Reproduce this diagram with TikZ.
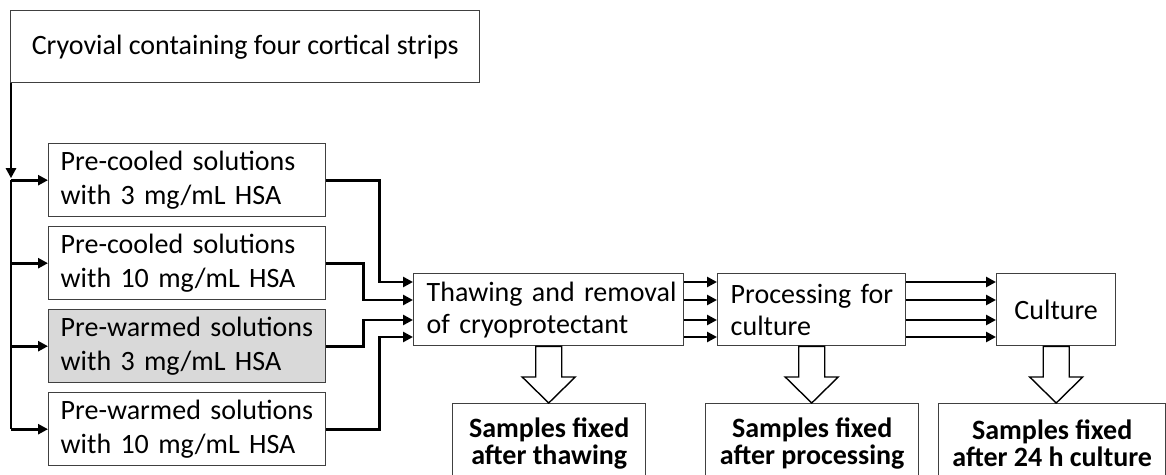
\documentclass[tikz,border=0pt]{standalone}
\usepackage{fontspec}
\setmainfont{Carlito}
\usetikzlibrary{calc,arrows.meta}
\definecolor{boxline}{HTML}{404040}
\definecolor{boxfill}{HTML}{D9D9D9}
\newcommand\blockarr[2]{%
  \draw[blockarrow] let \p1=(#1.south), \p2=(#2.north) in
    (\x1-6.5pt,\y1) -- (\x1-6.5pt,\y2+13pt) -- (\x1-13.25pt,\y2+13pt) -- (\x1,\y2)
    -- (\x1+13.25pt,\y2+13pt) -- (\x1+6.5pt,\y2+13pt) -- (\x1+6.5pt,\y1) -- cycle;}
\begin{document}
\begin{tikzpicture}[x=0.5pt,y=-0.5pt,
  box/.style={draw=boxline,line width=0.7pt,anchor=north west,inner ysep=0pt,fill=white},
  lbox/.style={box,align=left,inner xsep=6pt,text width=126.5pt,minimum width=138.5pt,
    minimum height=36.5pt,font=\fontsize{14}{17}\selectfont},
  mbox/.style={box,align=left,inner xsep=6.5pt,minimum height=36pt,font=\fontsize{14}{16}\selectfont},
  cbox/.style={box,align=center,inner xsep=0pt,minimum height=36pt,font=\fontsize{14}{16}\selectfont},
  sbox/.style={box,align=center,inner xsep=0pt,minimum height=39.5pt,font=\fontsize{14}{13.5}\selectfont\bfseries},
  conn/.style={line width=1.4pt,black},
  arr/.style={-{Triangle[length=5pt,width=5pt]}},
  blockarrow/.style={draw=black,line width=0.7pt,fill=white,line join=miter}
]
\useasboundingbox (0,0) rectangle (1166,475);
\clip (0,0) rectangle (1166,475);

\node[cbox,minimum width=234.5pt] (top) at (10,10) {Cryovial containing four cortical strips};

\node[lbox] (L1) at (48,143) {\mbox{Pre-cooled solutions}\\\mbox{with 3 mg/mL HSA}};
\node[lbox] (L2) at (48,226) {\mbox{Pre-cooled solutions}\\\mbox{with 10 mg/mL HSA}};
\node[lbox,fill=boxfill] (L3) at (48,309) {\mbox{Pre-warmed solutions}\\\mbox{with 3 mg/mL HSA}};
\node[lbox] (L4) at (48,392) {\mbox{Pre-warmed solutions}\\\mbox{with 10 mg/mL HSA}};

\node[mbox,text width=122pt] (thaw) at (413,273) {\mbox{Thawing and removal}\\\mbox{of cryoprotectant}};
\node[mbox,text width=81pt] (proc) at (717,273) {\mbox{Processing for}\\\mbox{culture}};
\node[cbox,minimum width=59.5pt] (cult) at (996,273) {Culture};

\node[sbox,minimum width=96.5pt] (S1) at (452,403) {Samples fixed\\after thawing};
\node[sbox,minimum width=106.5pt] (S2) at (705,403) {Samples fixed\\after processing};
\node[sbox,minimum width=113.5pt] (S3) at (938,403) {Samples fixed\\after 24 h culture};

% trunk from the cryovial box
\coordinate (tr0) at ($(top.south west)+(1,0)$);
\draw[conn,arr,shorten >=1pt] (tr0) -- (tr0 |- L1.west);
\draw[conn] (tr0 |- L1.west) -- (tr0 |- L4.west);
\foreach \n in {L1,L2,L3,L4}{
  \draw[conn,arr] (tr0 |- \n.west) -- (\n.west);
}

% entry points on the thawing box
\coordinate (t1) at ($(thaw.north west)+(0,9)$);
\coordinate (t2) at ($(thaw.north west)+(0,27)$);
\coordinate (t3) at ($(thaw.north west)+(0,47)$);
\coordinate (t4) at ($(thaw.north west)+(0,64)$);

\draw[conn,arr] (L1.east) -- ++(53,0) |- (t1);
\draw[conn,arr] (L2.east) -- ++(37,0) |- (t2);
\draw[conn,arr] (L3.east) -- ++(37,0) |- (t3);
\draw[conn,arr] (L4.east) -- ++(53,0) |- (t4);

\foreach \t in {t1,t2,t3,t4}{
  \draw[conn,arr] (thaw.east |- \t) -- (proc.west |- \t);
  \draw[conn,arr] (proc.east |- \t) -- (cult.west |- \t);
}

\blockarr{thaw}{S1}
\blockarr{proc}{S2}
\blockarr{cult}{S3}
\end{tikzpicture}
\end{document}
